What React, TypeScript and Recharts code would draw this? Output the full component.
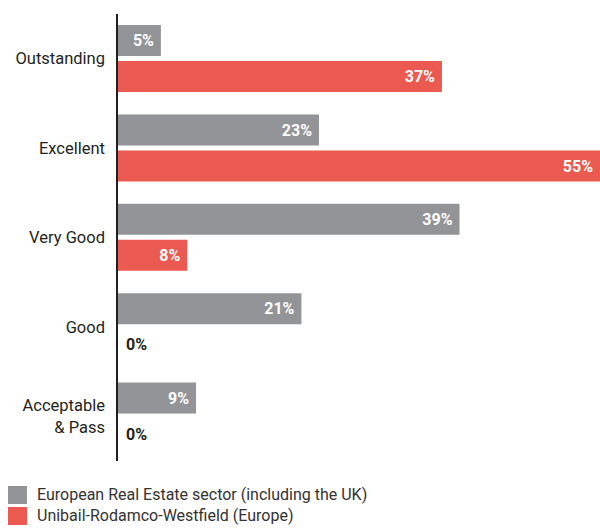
import { BarChart, Bar, XAxis, YAxis, LabelList } from 'recharts';

const categories = ['Outstanding', 'Excellent', 'Very Good', 'Good', 'Acceptable\n& Pass'];
const sectorValues = [5, 23, 39, 21, 9];
const urwValues = [37, 55, 8, 0, 0];
const seriesNames = [
  'European Real Estate sector (including the UK)',
  'Unibail-Rodamco-Westfield (Europe)',
];
const seriesColors = ['#939497', '#ea5a50'];

const data = categories.map((name, i) => ({
  name,
  sector: sectorValues[i],
  urw: urwValues[i],
}));

const FONT = 'Roboto, sans-serif';

const CategoryTick = (props: any) => {
  const { x, y, payload } = props;
  const lines = String(payload.value).split('\n');
  const lh = 22;
  const start = -((lines.length - 1) * lh) / 2;
  return (
    <text x={x - 4} y={y} textAnchor="end" fontFamily={FONT} fontSize={16.5} fill="#231f20">
      {lines.map((l, i) => (
        <tspan key={i} x={x - 4} y={y + start + i * lh} dy="0.35em">
          {l}
        </tspan>
      ))}
    </text>
  );
};

const ValueLabel = (props: any) => {
  const { x, y, width, height, value } = props;
  const cy = y + height / 2;
  if (!value) {
    return (
      <text x={x + 9} y={cy} dy="0.36em" textAnchor="start" fontFamily={FONT} fontWeight={700} fontSize={16} fill="#231f20">
        {value}%
      </text>
    );
  }
  return (
    <text x={x + width - 7} y={cy} dy="0.36em" textAnchor="end" fontFamily={FONT} fontWeight={700} fontSize={16} fill="#ffffff">
      {value}%
    </text>
  );
};

const App = () => (
  <div style={{ position: 'absolute', left: 0, top: 0, width: 600, height: 528, background: '#fff' }}>
    <BarChart
      width={600}
      height={528}
      data={data}
      layout="vertical"
      margin={{ top: 14, right: 0, left: 0, bottom: 67 }}
      barSize={31}
      barGap={5}
    >
      <XAxis type="number" domain={[0, 55]} hide />
      <YAxis
        type="category"
        dataKey="name"
        width={117}
        tickLine={false}
        axisLine={{ stroke: '#231f20', strokeWidth: 2 }}
        tick={<CategoryTick />}
      />
      <Bar dataKey="sector" fill={seriesColors[0]} isAnimationActive={false}>
        <LabelList dataKey="sector" content={<ValueLabel />} />
      </Bar>
      <Bar dataKey="urw" fill={seriesColors[1]} minPointSize={0.01} isAnimationActive={false}>
        <LabelList dataKey="urw" content={<ValueLabel />} />
      </Bar>
    </BarChart>
    <div style={{ position: 'absolute', left: 8, top: 484, fontFamily: FONT, fontSize: 16, color: '#333' }}>
      {seriesNames.map((n, i) => (
        <div key={n} style={{ display: 'flex', alignItems: 'center', height: 21 }}>
          <span style={{ width: 19, height: 18, background: seriesColors[i], display: 'inline-block', marginRight: 10 }} />
          <span>{n}</span>
        </div>
      ))}
    </div>
  </div>
);

export default App;
